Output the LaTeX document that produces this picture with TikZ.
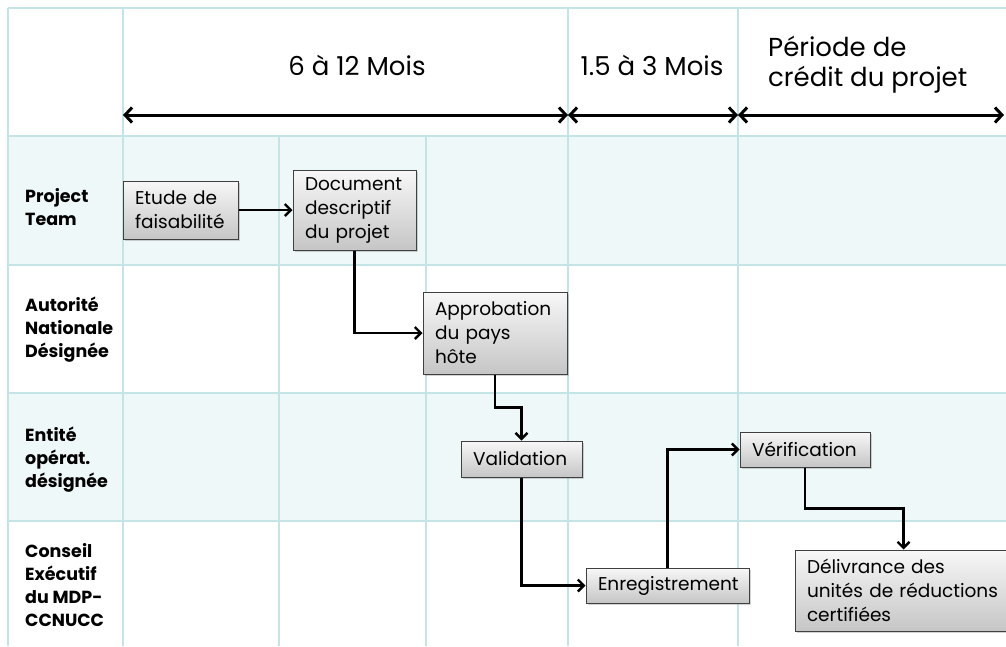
\documentclass[tikz,border=0pt]{standalone}
\usepackage{fontspec}
\setmainfont{Poppins}
\usetikzlibrary{arrows.meta,shadows}

\definecolor{grille}{RGB}{196,228,230}
\definecolor{bande}{RGB}{239,248,248}

\tikzset{
  gridline/.style={draw=grille, line width=1.5pt},
  etape/.style={draw=black!75, line width=1pt, top color=gray!6, bottom color=gray!45,
    drop shadow={opacity=0.35, shadow xshift=2pt, shadow yshift=-2pt},
    align=left, inner xsep=12pt, inner ysep=0pt, font=\fontsize{18.5}{24}\selectfont},
  fleche/.style={line width=2.4pt, -{Straight Barb[length=6pt,width=12pt]}},
  duree/.style={line width=3pt, {Straight Barb[length=7pt,width=15pt]}-{Straight Barb[length=7pt,width=15pt]}},
  titre/.style={inner sep=0pt, font=\fontsize{26}{30}\selectfont},
  acteur/.style={inner sep=0pt, anchor=west, align=left, font=\bfseries\fontsize{17.5}{23}\selectfont}
}

\begin{document}
\begin{tikzpicture}[x=1pt,y=-1pt]
\useasboundingbox (0,0) rectangle (1006,646);

% Shaded rows of the table
\fill[bande] (8,136) rectangle (1006,265);
\fill[bande] (8,393) rectangle (1006,521);

% Grid lines
\foreach \y in {8,136,265,393,521}
	\draw[gridline] (8,\y) -- (1006,\y);
\foreach \x in {8,123,568,738}
	\draw[gridline] (\x,8) -- (\x,646);
\foreach \x in {279,426}
	\draw[gridline] (\x,136) -- (\x,646);

% Limits of the periods
\coordinate (t0) at (123,115);
\coordinate (t1) at (568,115);
\coordinate (t2) at (738,115);
\coordinate (t3) at (1004,115);

% Periods and their arrows
\node[titre] (p1) at (357,65) {6 à 12 Mois};
\node[titre] (p2) at (652,65) {1.5 à 3 Mois};
\node[titre, anchor=west, align=left] (p3) at (768,65) {Période de\\crédit du projet};
\draw[duree] (t0) -- (t1);
\draw[duree] (t1) -- (t2);
\draw[duree] (t2) -- (t3);

% Actors
\node[acteur] (a1) at (25,207) {Project\\Team};
\node[acteur] (a2) at (25,330) {Autorité\\Nationale\\Désignée};
\node[acteur] (a3) at (25,460) {Entité\\opérat.\\désignée};
\node[acteur] (a4) at (25,585) {Conseil\\Exécutif\\du MDP-\\CCNUCC};

% Steps of the project cycle
\node[etape, text width=91pt, minimum height=58pt] (etude) at (180.5,210) {Etude de\\faisabilité};
\node[etape, text width=99pt, minimum height=80pt] (doc) at (354.5,210) {Document\\descriptif\\du projet};
\node[etape, text width=120pt, minimum height=82pt] (appro) at (495,333) {Approbation\\du pays\\hôte};
\node[etape, text width=97pt, minimum height=36pt] (valid) at (521.5,459) {Validation};
\node[etape, text width=139pt, minimum height=35pt] (enreg) at (667.5,585.5) {Enregistrement};
\node[etape, text width=106pt, minimum height=35pt] (verif) at (805,449.5) {Vérification};
\node[etape, text width=193pt, minimum height=81pt] (deliv) at (903.5,590.5) {Délivrance des\\unités de réductions\\certifiées};

% Flow between the steps
\draw[fleche] (etude) -- (doc);
\draw[fleche] (doc.south) |- (appro.west);
\draw[fleche] (appro.south) -- ++(0,33) -| (valid.north);
\draw[fleche] (valid.south) |- (enreg.west);
\draw[fleche] (enreg.north) |- (verif.west);
\draw[fleche] (verif.south) -- ++(0,41) -| (deliv.north);

\end{tikzpicture}
\end{document}
